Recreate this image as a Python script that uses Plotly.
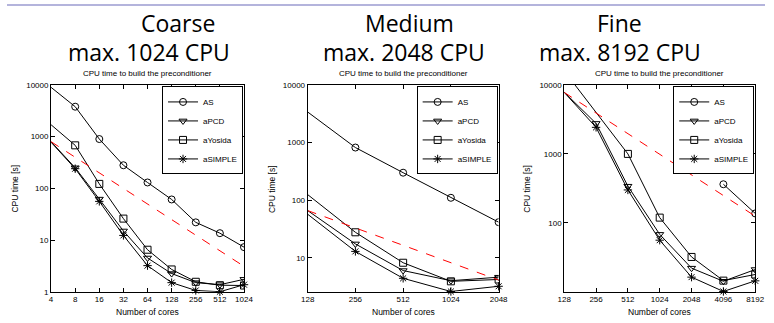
import plotly.graph_objects as go
import math

# ---------------- data ----------------
coarse_cores = [4, 8, 16, 32, 64, 128, 256, 512, 1024]
coarse_AS = [9000, 3800, 900, 280, 130, 61, 22, 13.6, 7.3]
coarse_aPCD = [800, 250, 62, 15, 4.5, 2.25, 1.5, 1.37, 1.74]
coarse_aYosida = [1700, 680, 122, 26, 6.5, 2.7, 1.56, 1.34, 1.32]
coarse_aSIMPLE = [780, 240, 56, 12.3, 3.2, 1.5, 1.06, 1.0, 1.37]
coarse_ideal_cores = [4, 1024]
coarse_ideal = [800, 3.1]

medium_cores = [128, 256, 512, 1024, 2048]
medium_AS = [3400, 820, 300, 110, 41.5]
medium_aPCD = [66, 17.4, 6.0, 4.0, 4.6]
medium_aYosida = [125, 27.7, 8.2, 3.9, 4.2]
medium_aSIMPLE = [57, 12.9, 4.4, 2.6, 3.2]
medium_ideal_cores = [128, 2048]
medium_ideal = [66, 4.1]

fine_cores = [128, 256, 512, 1024, 2048, 4096, 8192]
fine_AS_cores = [4096, 8192]
fine_AS = [363, 137]
fine_aPCD = [7850, 2770, 340, 68, 22, 14.2, 21]
fine_aYosida_cores = [128, 512, 1024, 2048, 4096, 8192]
fine_aYosida = [16000, 1000, 119, 32, 14.5, 17.8]
fine_aSIMPLE = [7800, 2430, 300, 56, 16.3, 10.1, 14.4]
fine_ideal_cores = [128, 8192]
fine_ideal = [7800, 125]

series_names = ["AS", "aPCD", "aYosida", "aSIMPLE"]
panel_titles = ["Coarse", "Medium", "Fine"]
panel_subtitles = ["max. 1024 CPU", "max. 2048 CPU", "max. 8192 CPU"]
plot_title = "CPU time to build the preconditioner"
x_label = "Number of cores"
y_label = "CPU time [s]"

panels = [
    dict(series=[(coarse_cores, coarse_AS), (coarse_cores, coarse_aPCD),
                 (coarse_cores, coarse_aYosida), (coarse_cores, coarse_aSIMPLE)],
         ideal=(coarse_ideal_cores, coarse_ideal), xticks=coarse_cores,
         yticks=[1, 10, 100, 1000, 10000], yrange=[0, 4]),
    dict(series=[(medium_cores, medium_AS), (medium_cores, medium_aPCD),
                 (medium_cores, medium_aYosida), (medium_cores, medium_aSIMPLE)],
         ideal=(medium_ideal_cores, medium_ideal), xticks=medium_cores,
         yticks=[10, 100, 1000, 10000], yrange=[0.41, 4]),
    dict(series=[(fine_AS_cores, fine_AS), (fine_cores, fine_aPCD),
                 (fine_aYosida_cores, fine_aYosida), (fine_cores, fine_aSIMPLE)],
         ideal=(fine_ideal_cores, fine_ideal), xticks=fine_cores,
         yticks=[100, 1000, 10000], yrange=[1.0, 4]),
]

# ---------------- layout geometry (pixels) ----------------
W, H = 774, 323
def px(x):
    return x / W
def py(y):
    return 1 - y / H

x_dom_px = [(45, 242), (307, 502), (569, 764)]
y_top_px, y_bot_px = 83.3, 296
symbols = ["circle-open", "triangle-down-open", "square-open", "asterisk-open"]

fig = go.Figure()
layout_axes = {}
annotations = []
font_small = dict(family="Liberation Sans, Arial, sans-serif", size=8, color="black")
title_font = dict(family="Open Sans, sans-serif", size=23, color="black")

title_centers = [(175, 145), (411, 405), (625, 626)]

for i, p in enumerate(panels):
    n = i + 1
    xa = "x" if n == 1 else f"x{n}"
    ya = "y" if n == 1 else f"y{n}"
    leg = "legend" if n == 1 else f"legend{n}"
    for k, (xs, ys) in enumerate(p["series"]):
        fig.add_trace(go.Scatter(
            x=xs, y=ys, mode="lines+markers", name=series_names[k],
            xaxis=xa, yaxis=ya, legend=leg,
            line=dict(color="black", width=1),
            marker=dict(symbol=symbols[k], size=7, color="black",
                        line=dict(width=1, color="black")),
            cliponaxis=False if k == 3 else True,
        ))
    ix, iy = p["ideal"]
    fig.add_trace(go.Scatter(
        x=ix, y=iy, mode="lines", xaxis=xa, yaxis=ya, showlegend=False,
        line=dict(color="red", width=1, dash="dash")))

    x0, x1 = x_dom_px[i]
    xt = p["xticks"]
    layout_axes[f"xaxis{'' if n == 1 else n}"] = dict(
        type="log", domain=[px(x0), px(x1)], anchor=ya,
        range=[math.log10(xt[0]), math.log10(xt[-1])],
        tickvals=xt, ticktext=[str(v) for v in xt],
        ticks="inside", ticklen=4, tickcolor="black", showgrid=False,
        zeroline=False, showline=True, linecolor="black", linewidth=1,
        mirror="allticks", tickfont=font_small,
    )
    layout_axes[f"yaxis{'' if n == 1 else n}"] = dict(
        type="log", domain=[py(y_bot_px), py(y_top_px)], anchor=xa,
        range=p["yrange"], tickvals=p["yticks"],
        ticktext=[str(v) for v in p["yticks"]],
        ticks="inside", ticklen=4, tickcolor="black", showgrid=False,
        zeroline=False, showline=True, linecolor="black", linewidth=1,
        mirror="allticks", tickfont=font_small,
    )
    layout_axes[leg] = dict(
        x=px(x1 - 1), xanchor="right", y=py(y_top_px + 1.5), yanchor="top",
        bgcolor="white", bordercolor="black", borderwidth=1,
        font=font_small, itemwidth=30, tracegroupgap=0,
    )
    cx = (x0 + x1) / 2
    annotations.append(dict(text=plot_title, x=px(cx), y=py(72), xref="paper", yref="paper",
                            showarrow=False, font=font_small, xanchor="center", yanchor="middle"))
    annotations.append(dict(text=x_label, x=px(cx), y=py(317), xref="paper", yref="paper",
                            showarrow=False, font=dict(font_small, size=8.5),
                            xanchor="center", yanchor="middle"))
    tc1, tc2 = title_centers[i]
    annotations.append(dict(text=panel_titles[i], x=px(tc1), y=py(20), xref="paper", yref="paper",
                            showarrow=False, font=title_font, xanchor="center", yanchor="middle"))
    annotations.append(dict(text=panel_subtitles[i], x=px(tc2), y=py(49.5), xref="paper", yref="paper",
                            showarrow=False, font=title_font, xanchor="center", yanchor="middle"))

ylabel_x = [8, 270, 531]
for xx in ylabel_x:
    annotations.append(dict(text=y_label, x=px(xx), y=py(190), xref="paper", yref="paper",
                            showarrow=False, font=dict(font_small, size=8.5), textangle=-90,
                            xanchor="center", yanchor="middle"))

fig.update_layout(
    width=W, height=H, margin=dict(l=0, r=0, t=0, b=0),
    paper_bgcolor="white", plot_bgcolor="white",
    annotations=annotations,
    shapes=[dict(type="rect", xref="paper", yref="paper", x0=0, x1=1, y0=py(2), y1=1,
                 fillcolor="#b4b4dc", line=dict(width=0), layer="above")],
    **layout_axes,
)

fig.write_html("out.html", config={"displayModeBar": False},
               post_script="document.body.style.margin='0';document.body.style.padding='0';")
